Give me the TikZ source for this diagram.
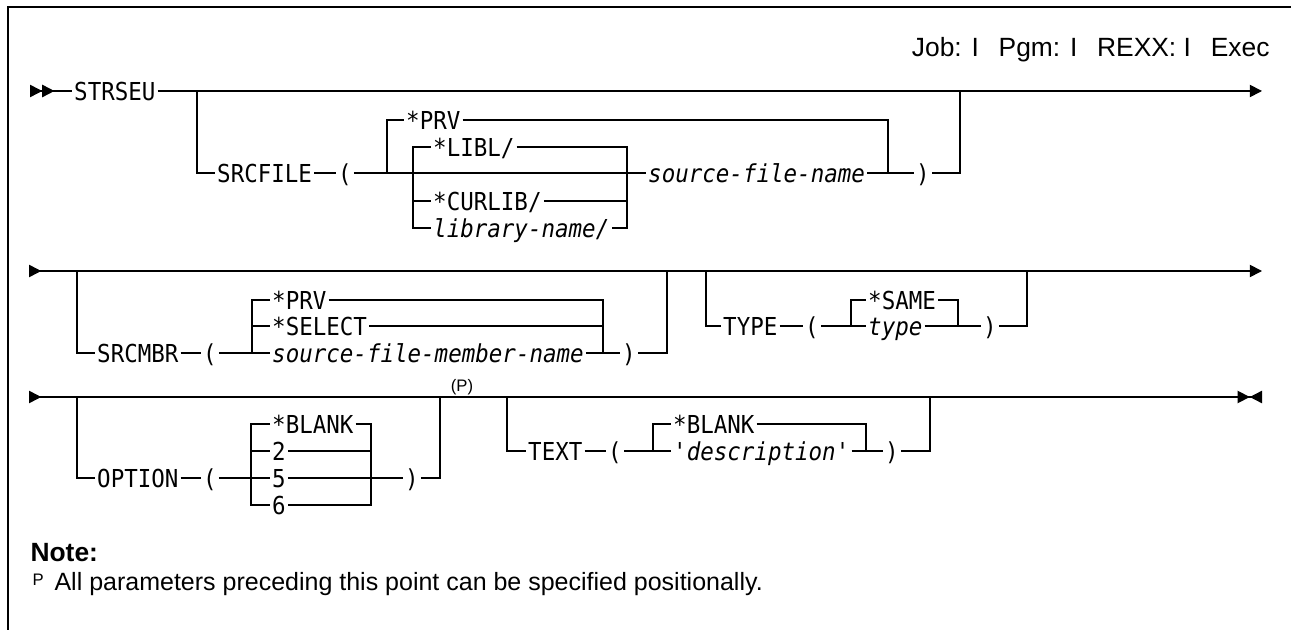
\documentclass[tikz,border=0pt]{standalone}
\usepackage{fontspec}
\setmainfont{Liberation Sans}
\setmonofont[FakeStretch=0.91]{DejaVu Sans Mono}
\usetikzlibrary{arrows.meta}

\tikzset{rrtip/.tip={Triangle[length=4.4pt,width=4.4pt,sep=0pt]}}

\begin{document}
\begin{tikzpicture}[x=0.36pt,y=-0.36pt,
    rail/.style={line width=0.6pt,draw=black},
    kw/.style={font=\ttfamily\fontsize{8.9}{10}\selectfont,anchor=west,inner xsep=0.6pt,inner ysep=0pt,text height=6.5pt,text depth=0pt},
    var/.style={kw,font=\ttfamily\itshape\fontsize{8.9}{10}\selectfont},
    txt/.style={font=\fontsize{9}{11}\selectfont,anchor=base west,inner sep=0pt}]

    \useasboundingbox (0,0) rectangle (1291,630);
    \draw[line width=0.55pt] (1291,7) -- (8,7) -- (8,630);

    \node[txt,font=\fontsize{9.5}{11}\selectfont,anchor=base east] (env) at (1270,57) {Job: I\hspace{0.75em}Pgm: I\hspace{0.75em}REXX: I\hspace{0.75em}Exec};

    \coordinate (r1s) at (30,91);
    \node[kw] (strseu) at (72,91) {STRSEU};
    \coordinate (r1e) at (1262,91);
    \draw[rail,{rrtip[reversed] rrtip[reversed]}-] (r1s) -- (strseu.west);
    \draw[rail,-{rrtip[]}] (strseu.east) -- (r1e);

    \coordinate (b1) at (197,91);
    \node[kw] (srcfile) at (215,173) {SRCFILE};
    \node[kw] (lp1) at (336,173) {(};
    \coordinate (j1) at (387,173);
    \node[kw] (prv1) at (404,120) {*PRV};
    \coordinate (j2) at (413,173);
    \node[kw] (libl) at (431,147) {*LIBL/};
    \node[kw] (curlib) at (431,201) {*CURLIB/};
    \node[var] (libname) at (431,228) {library-name/};
    \coordinate (k2) at (627,173);
    \node[var] (srcname) at (646,173) {source-file-name};
    \coordinate (k1) at (888,173);
    \node[kw] (rp1) at (914,173) {)};
    \coordinate (k3) at (960,91);

    \draw[rail] (b1) |- (srcfile.west);
    \draw[rail] (srcfile.east) -- (lp1.west);
    \draw[rail] (lp1.east) -- (srcname.west);
    \draw[rail] (j1) |- (prv1.west);
    \draw[rail] (prv1.east) -| (k1);
    \draw[rail] (libl.west) -| (j2) |- (libname.west);
    \draw[rail] (j2) |- (curlib.west);
    \draw[rail] (libl.east) -| (k2) |- (libname.east);
    \draw[rail] (curlib.east) -| (k2);
    \draw[rail] (srcname.east) -- (rp1.west);
    \draw[rail] (rp1.east) -| (k3);

    \coordinate (r2s) at (29,271);
    \coordinate (r2e) at (1262,271);
    \draw[rail,{rrtip[reversed]}-{rrtip[]}] (r2s) -- (r2e);

    \coordinate (b2) at (77,271);
    \node[kw] (srcmbr) at (95,353) {SRCMBR};
    \node[kw] (lp2) at (201,353) {(};
    \coordinate (j3) at (252,353);
    \node[kw] (prv2) at (270,300) {*PRV};
    \node[kw] (select) at (270,326) {*SELECT};
    \node[var] (mbrname) at (270,353) {source-file-member-name};
    \coordinate (k4) at (603,353);
    \node[kw] (rp2) at (620,353) {)};
    \coordinate (k5) at (667,271);

    \draw[rail] (b2) |- (srcmbr.west);
    \draw[rail] (srcmbr.east) -- (lp2.west);
    \draw[rail] (lp2.east) -- (mbrname.west);
    \draw[rail] (prv2.west) -| (j3);
    \draw[rail] (j3) |- (select.west);
    \draw[rail] (prv2.east) -| (k4);
    \draw[rail] (select.east) -| (k4);
    \draw[rail] (mbrname.east) -- (rp2.west);
    \draw[rail] (rp2.east) -| (k5);

    \coordinate (b3) at (706,271);
    \node[kw] (type) at (721,326) {TYPE};
    \node[kw] (lp3) at (803,326) {(};
    \coordinate (j4) at (851,326);
    \node[kw] (same) at (866,300) {*SAME};
    \node[var] (typename) at (866,326) {type};
    \coordinate (k6) at (958,326);
    \node[kw] (rp3) at (981,326) {)};
    \coordinate (k7) at (1027,271);

    \draw[rail] (b3) |- (type.west);
    \draw[rail] (type.east) -- (lp3.west);
    \draw[rail] (lp3.east) -- (typename.west);
    \draw[rail] (j4) |- (same.west);
    \draw[rail] (same.east) -| (k6);
    \draw[rail] (typename.east) -- (rp3.west);
    \draw[rail] (rp3.east) -| (k7);

    \coordinate (r3s) at (29,397);
    \coordinate (r3e) at (1262,397);
    \draw[rail,{rrtip[reversed]}-{rrtip[] rrtip[reversed]}] (r3s) -- (r3e);

    \coordinate (b4) at (77,397);
    \node[kw] (option) at (95,478) {OPTION};
    \node[kw] (lp4) at (201,478) {(};
    \coordinate (j5) at (251,478);
    \node[kw] (blank1) at (270,424) {*BLANK};
    \node[kw] (opt2) at (270,451) {2};
    \node[kw] (opt5) at (270,478) {5};
    \node[kw] (opt6) at (270,505) {6};
    \coordinate (k8) at (371,478);
    \node[kw] (rp4) at (403,478) {)};
    \coordinate (k9) at (440,397);
    \node[font=\fontsize{6}{7}\selectfont,anchor=south,inner sep=0.6pt] (pmark) at (462,397) {(P)};

    \draw[rail] (b4) |- (option.west);
    \draw[rail] (option.east) -- (lp4.west);
    \draw[rail] (lp4.east) -- (opt5.west);
    \draw[rail] (blank1.west) -| (j5) |- (opt6.west);
    \draw[rail] (j5) |- (opt2.west);
    \draw[rail] (blank1.east) -| (k8) |- (opt6.east);
    \draw[rail] (opt2.east) -| (k8);
    \draw[rail] (opt5.east) -- (rp4.west);
    \draw[rail] (rp4.east) -| (k9);

    \coordinate (b5) at (507,397);
    \node[kw] (text) at (526,451) {TEXT};
    \node[kw] (lp5) at (606,451) {(};
    \coordinate (j6) at (653,451);
    \node[kw] (blank2) at (671,424) {*BLANK};
    \node[var] (descr) at (671,451) {'description'};
    \coordinate (k10) at (866,451);
    \node[kw] (rp5) at (883,451) {)};
    \coordinate (k11) at (930,397);

    \draw[rail] (b5) |- (text.west);
    \draw[rail] (text.east) -- (lp5.west);
    \draw[rail] (lp5.east) -- (descr.west);
    \draw[rail] (j6) |- (blank2.west);
    \draw[rail] (blank2.east) -| (k10);
    \draw[rail] (descr.east) -- (rp5.west);
    \draw[rail] (rp5.east) -| (k11);

    \node[txt,font=\bfseries\fontsize{9.5}{11}\selectfont] (note) at (30,561) {Note:};
    \node[txt,font=\fontsize{6}{7}\selectfont] (pfoot) at (32,585) {P};
    \node[txt] (ptext) at (54,590) {All parameters preceding this point can be specified positionally.};

\end{tikzpicture}
\end{document}
